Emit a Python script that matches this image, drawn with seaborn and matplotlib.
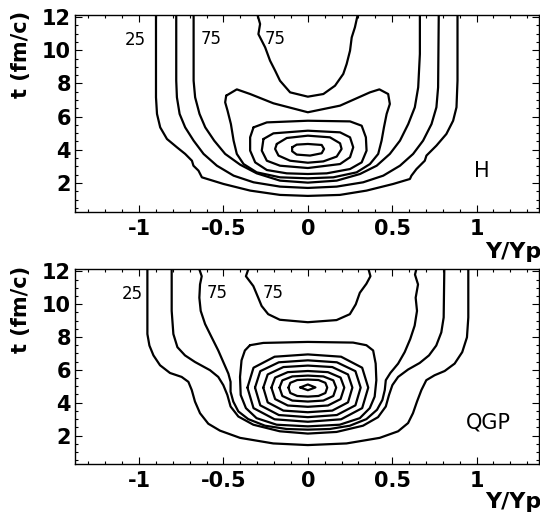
import matplotlib
matplotlib.use("Agg")
import matplotlib.pyplot as plt
import seaborn as sns
from matplotlib.ticker import MultipleLocator, FuncFormatter

# ---------------- data (Y/Yp , t in fm/c) ----------------
# Panel "H"
h25_y = [-0.90, -0.90, -0.894, -0.875, -0.835, -0.776, -0.727, -0.687, -0.678, -0.648, -0.628, -0.50, -0.342, -0.165, 0.0,
         0.19, 0.348, 0.506, 0.605, 0.614, 0.644, 0.693, 0.703, 0.762, 0.821, 0.861, 0.881, 0.887, 0.887]
h25_t = [12.3, 7.16, 6.16, 5.35, 4.65, 4.15, 3.75, 3.34, 3.04, 2.74, 2.34, 1.94, 1.54, 1.28, 1.22,
         1.28, 1.54, 1.94, 2.24, 2.44, 2.84, 3.34, 3.65, 4.25, 4.95, 5.75, 6.56, 8.16, 12.3]
h50_y = [-0.78, -0.78, -0.776, -0.76, -0.727, -0.677, -0.618, -0.539, -0.44, -0.322, -0.165, 0.0,
         0.171, 0.328, 0.447, 0.546, 0.624, 0.683, 0.733, 0.762, 0.772, 0.776]
h50_t = [12.3, 8.16, 7.16, 6.16, 5.35, 4.55, 3.75, 3.04, 2.44, 2.04, 1.78, 1.70,
         1.78, 2.04, 2.44, 3.04, 3.75, 4.55, 5.55, 6.56, 7.76, 12.3]
h75_y = [-0.677, -0.677, -0.668, -0.642, -0.608, -0.555, -0.490, -0.401, -0.303, -0.165, 0.0,
         0.171, 0.309, 0.408, 0.486, 0.546, 0.595, 0.634, 0.654, 0.664, 0.664]
h75_t = [12.3, 8.16, 7.16, 6.16, 5.35, 4.55, 3.75, 3.10, 2.58, 2.14, 2.02,
         2.14, 2.54, 3.04, 3.75, 4.55, 5.55, 6.56, 7.76, 9.77, 12.3]
h75u_y = [-0.303, -0.283, -0.293, -0.253, -0.224, -0.194, -0.165, -0.105, 0.0,
          0.092, 0.161, 0.210, 0.230, 0.250, 0.260, 0.279, 0.299]
h75u_t = [12.3, 11.58, 10.97, 10.17, 9.37, 8.77, 8.16, 7.46, 7.20,
          7.36, 7.86, 8.57, 9.17, 9.97, 10.77, 11.38, 12.3]
h100_y = [-0.484, -0.421, -0.342, -0.204, 0.0, 0.191, 0.368, 0.424, 0.476, 0.486, 0.467, 0.451, 0.437, 0.417,
          0.368, 0.289, 0.151, 0.0, -0.165, -0.303, -0.381, -0.421, -0.440, -0.456, -0.476, -0.490, -0.484]
h100_t = [7.26, 7.64, 7.36, 6.80, 6.26, 6.66, 7.46, 7.64, 7.36, 6.76, 6.16, 5.35, 4.55, 3.75,
          3.14, 2.64, 2.34, 2.28, 2.34, 2.64, 3.14, 3.75, 4.55, 5.55, 6.36, 6.86, 7.26]
h125_y = [-0.322, -0.243, 0.0, 0.250, 0.319, 0.344, 0.348, 0.319, 0.250, 0.112, 0.0, -0.125, -0.243, -0.312,
          -0.342, -0.342, -0.322]
h125_t = [5.35, 5.65, 5.75, 5.71, 5.45, 4.75, 3.95, 3.24, 2.84, 2.58, 2.54, 2.58, 2.78, 3.24, 3.95, 4.75, 5.35]
h150_y = [-0.263, -0.204, 0.0, 0.191, 0.250, 0.269, 0.250, 0.191, 0.0, -0.165, -0.243, -0.273, -0.263]
h150_t = [4.65, 4.99, 5.15, 5.05, 4.75, 4.15, 3.55, 3.14, 2.90, 3.04, 3.34, 3.95, 4.65]
h175_y = [-0.184, -0.125, 0.0, 0.131, 0.191, 0.200, 0.171, 0.092, 0.0, -0.105, -0.174, -0.194, -0.184]
h175_t = [4.35, 4.71, 4.85, 4.75, 4.39, 4.05, 3.59, 3.30, 3.22, 3.34, 3.65, 4.05, 4.35]
h200_y = [-0.093, -0.066, 0.0, 0.082, 0.096, 0.082, 0.013, -0.066, -0.093, -0.093]
h200_t = [4.15, 4.31, 4.35, 4.29, 4.05, 3.79, 3.65, 3.71, 3.91, 4.15]

# Panel "QGP"
q25_y = [-0.951, -0.951, -0.939, -0.915, -0.876, -0.817, -0.748, -0.708, -0.688, -0.669, -0.639, -0.590, -0.521,
         -0.402, -0.205, 0.0, 0.229, 0.426, 0.535, 0.594, 0.623, 0.647, 0.673, 0.702, 0.751, 0.811, 0.870,
         0.915, 0.943, 0.951, 0.951]
q25_t = [12.3, 8.18, 7.48, 6.88, 6.28, 5.81, 5.57, 5.27, 4.77, 4.07, 3.36, 2.72, 2.30,
         1.86, 1.52, 1.42, 1.52, 1.86, 2.26, 2.76, 3.36, 4.07, 4.77, 5.37, 5.67, 5.93, 6.38,
         7.08, 7.98, 9.19, 12.3]
q50_y = [-0.807, -0.807, -0.797, -0.773, -0.728, -0.669, -0.580, -0.531, -0.501, -0.477, -0.458, -0.412, -0.323,
         -0.166, 0.0, 0.170, 0.327, 0.416, 0.462, 0.481, 0.501, 0.535, 0.594, 0.663, 0.718, 0.761, 0.791,
         0.805, 0.809]
q50_t = [12.3, 9.59, 8.18, 7.38, 6.88, 6.48, 5.98, 5.57, 5.07, 4.47, 3.77, 3.16, 2.66,
         2.26, 2.12, 2.22, 2.60, 3.12, 3.77, 4.47, 5.07, 5.57, 6.02, 6.42, 6.88, 7.48, 8.28,
         9.19, 12.3]
q75_y = [-0.649, -0.629, -0.639, -0.643, -0.635, -0.609, -0.570, -0.531, -0.497, -0.471, -0.458, -0.458, -0.442,
         -0.412, -0.353, -0.254, -0.126, 0.0, 0.130, 0.249, 0.347, 0.410, 0.442, 0.456, 0.462, 0.489, 0.535,
         0.574, 0.607, 0.633, 0.647, 0.639, 0.653, 0.635, 0.647]
q75_t = [12.3, 11.70, 11.20, 10.39, 9.59, 8.79, 7.98, 7.18, 6.38, 5.77, 5.27, 4.67, 4.07,
         3.47, 3.00, 2.60, 2.40, 2.36, 2.40, 2.60, 3.00, 3.57, 4.17, 4.77, 5.37, 5.81, 6.38,
         7.08, 7.88, 8.69, 9.59, 10.39, 11.20, 11.80, 12.3]
q75u_y = [-0.347, -0.367, -0.323, -0.294, -0.274, -0.235, -0.166, 0.0, 0.170, 0.249, 0.284, 0.308, 0.347,
          0.371, 0.355]
q75u_t = [12.3, 11.70, 11.10, 10.39, 9.89, 9.39, 9.05, 8.90, 9.03, 9.39, 9.99, 10.69, 11.24, 11.70, 12.3]
q100_y = [-0.343, -0.264, 0.0, 0.268, 0.347, 0.387, 0.402, 0.406, 0.396, 0.367, 0.308, 0.189, 0.0, -0.185,
          -0.304, -0.367, -0.398, -0.402, -0.393, -0.373, -0.343]
q100_t = [7.50, 7.64, 7.70, 7.66, 7.50, 7.18, 6.38, 5.37, 4.37, 3.67, 3.06, 2.66, 2.56, 2.66,
          3.06, 3.67, 4.47, 5.57, 6.58, 7.18, 7.50]
q125_y = [-0.358, -0.322, -0.197, 0.0, 0.197, 0.322, 0.358, 0.322, 0.197, 0.0, -0.197, -0.322, -0.358]
q125_t = [4.92, 6.13, 6.80, 6.94, 6.80, 6.13, 4.92, 3.67, 2.99, 2.84, 2.99, 3.67, 4.92]
q150_y = [-0.313, -0.282, -0.172, 0.0, 0.172, 0.282, 0.313, 0.282, 0.172, 0.0, -0.172, -0.282, -0.313]
q150_t = [4.92, 5.92, 6.46, 6.58, 6.46, 5.92, 4.92, 3.84, 3.25, 3.12, 3.25, 3.84, 4.92]
q175_y = [-0.264, -0.238, -0.145, 0.0, 0.145, 0.238, 0.264, 0.238, 0.145, 0.0, -0.145, -0.238, -0.264]
q175_t = [4.92, 5.72, 6.17, 6.26, 6.17, 5.72, 4.92, 4.02, 3.52, 3.42, 3.52, 4.02, 4.92]
q200_y = [-0.216, -0.194, -0.119, 0.0, 0.119, 0.194, 0.216, 0.194, 0.119, 0.0, -0.119, -0.194, -0.216]
q200_t = [4.92, 5.53, 5.86, 5.93, 5.86, 5.53, 4.92, 4.22, 3.83, 3.75, 3.83, 4.22, 4.92]
q225_y = [-0.168, -0.151, -0.092, 0.0, 0.092, 0.151, 0.168, 0.151, 0.092, 0.0, -0.092, -0.151, -0.168]
q225_t = [4.92, 5.36, 5.60, 5.65, 5.60, 5.36, 4.92, 4.41, 4.13, 4.07, 4.13, 4.41, 4.92]
q250_y = [-0.115, -0.104, -0.063, 0.0, 0.063, 0.104, 0.115, 0.104, 0.063, 0.0, -0.063, -0.104, -0.115]
q250_t = [4.92, 5.21, 5.38, 5.41, 5.38, 5.21, 4.92, 4.59, 4.41, 4.37, 4.41, 4.59, 4.92]
q275_y = [-0.045, 0.0, 0.045, 0.0, -0.045]
q275_t = [4.93, 5.11, 4.93, 4.76, 4.93]

panel_names = ["H", "QGP"]
contour_labels = ["25", "75", "75"]
x_ticks = [-1, -0.5, 0, 0.5, 1]
y_ticks = [2, 4, 6, 8, 10, 12]

h_lines = [(h25_y, h25_t), (h50_y, h50_t), (h75_y, h75_t), (h75u_y, h75u_t), (h100_y, h100_t),
           (h125_y, h125_t), (h150_y, h150_t), (h175_y, h175_t), (h200_y, h200_t)]
q_lines = [(q25_y, q25_t), (q50_y, q50_t), (q75_y, q75_t), (q75u_y, q75u_t), (q100_y, q100_t),
           (q125_y, q125_t), (q150_y, q150_t), (q175_y, q175_t), (q200_y, q200_t),
           (q225_y, q225_t), (q250_y, q250_t), (q275_y, q275_t)]

# ---------------- figure ----------------
sns.set_style("ticks")
plt.rcParams["font.family"] = ["DejaVu Sans"]
plt.rcParams["axes.unicode_minus"] = False
for key in ["text.color", "axes.labelcolor", "xtick.color", "ytick.color", "axes.edgecolor"]:
    plt.rcParams[key] = "black"

fig = plt.figure(figsize=(5.40, 5.19), dpi=100)
ax_top = fig.add_axes([75 / 540, 1 - 212 / 519, 464 / 540, 197.3 / 519])
ax_bot = fig.add_axes([75 / 540, 1 - 464.3 / 519, 464 / 540, 195.3 / 519])

label_pos = {
    "H": [(-1.02, 10.6), (-0.575, 10.7), (-0.195, 10.7)],
    "QGP": [(-1.04, 10.6), (-0.54, 10.7), (-0.205, 10.7)],
}
name_pos = {"H": (1.03, 2.75), "QGP": (1.07, 2.8)}
fmt = FuncFormatter(lambda v, p: "%g" % v)

for ax, name, lines, label_top in [(ax_top, "H", h_lines, 11), (ax_bot, "QGP", q_lines, 266)]:
    for ys, ts in lines:
        sns.lineplot(x=ys, y=ts, sort=False, estimator=None, color="black",
                     linewidth=1.6, ax=ax)
    for txt, (lx, ly) in zip(contour_labels, label_pos[name]):
        ax.text(lx, ly, txt, fontsize=12, ha="center", va="center", color="black")
    nx, ny = name_pos[name]
    ax.text(nx, ny, name, fontsize=15, ha="center", va="center", color="black")

    ax.set_xlim(-1.38, 1.37)
    ax.set_ylim(0.25, 12.14)
    ax.set_xticks(x_ticks)
    ax.set_yticks(y_ticks)
    ax.xaxis.set_major_formatter(fmt)
    ax.yaxis.set_major_formatter(fmt)
    ax.xaxis.set_minor_locator(MultipleLocator(0.1))
    ax.yaxis.set_minor_locator(MultipleLocator(0.5))
    ax.tick_params(which="both", direction="in", top=True, right=True, width=0.8,
                   color="black", labelcolor="black")
    ax.tick_params(which="major", length=5)
    ax.tick_params(which="minor", length=2.5)
    ax.tick_params(axis="x", which="major", labelsize=15, pad=5)
    ax.tick_params(axis="y", which="major", labelsize=15, pad=3)
    for lab in ax.get_xticklabels() + ax.get_yticklabels():
        lab.set_fontweight("bold")
    for sp in ax.spines.values():
        sp.set_linewidth(1.0)
        sp.set_color("black")
        sp.set_visible(True)

    ax.set_ylabel("t (fm/c)", fontsize=15, fontweight="bold", loc="top", color="black")
    ax.yaxis.set_label_coords(31 / 540, 1 - label_top / 519, transform=fig.transFigure)
    ax.set_xlabel("")

fig.text(541 / 540, 1 - 242 / 519, "Y/Yp", fontsize=16, fontweight="bold", ha="right", va="top", color="black")
fig.text(541 / 540, 1 - 492 / 519, "Y/Yp", fontsize=16, fontweight="bold", ha="right", va="top", color="black")

fig.savefig("out.png", dpi=100)
